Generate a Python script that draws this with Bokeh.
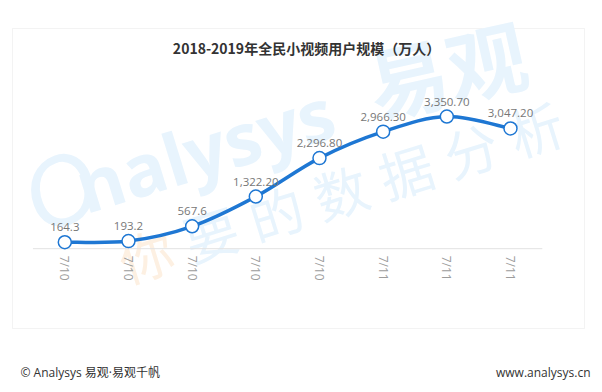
import numpy as np
from bokeh.plotting import figure
from bokeh.models import Range1d, Label, ColumnDataSource, BoxAnnotation
from bokeh.core.properties import value
from bokeh.embed import file_html
from bokeh.resources import INLINE

# ---- data ----
categories = ["7/10", "7/10", "7/10", "7/10", "7/10", "7/11", "7/11", "7/11"]
users = [164.3, 193.2, 567.6, 1322.2, 2296.8, 2966.3, 3350.7, 3047.2]
value_labels = ["164.3", "193.2", "567.6", "1,322.20", "2,296.80", "2,966.30", "3,350.70", "3,047.20"]
title_text = "2018-2019年全民小视频用户规模（万人）"
footer_left = "© Analysys 易观·易观千帆"
footer_right = "www.analysys.cn"

FONT = "Noto Sans CJK SC"
LATIN = "'Open Sans', 'Noto Sans CJK SC'"
BLUE = "#1e77d3"
WM_BLUE = "#e8f4fd"

xs = np.arange(len(users), dtype=float)
ys = np.array(users, dtype=float)

# the frame covers the whole canvas; the chart box is drawn as an annotation
p = figure(width=602, height=392, output_backend="svg", toolbar_location=None, tools="",
           title=None, x_axis_location=None, y_axis_location=None,
           x_range=Range1d(-1.0099, 8.4451), y_range=Range1d(-3645, 6291),
           min_border=0)
p.xgrid.visible = False
p.ygrid.visible = False
p.outline_line_color = None
p.background_fill_color = "white"
p.border_fill_color = "white"

# chart box
p.add_layout(BoxAnnotation(left=12, right=584, bottom=64, top=364,
                           left_units="screen", right_units="screen",
                           bottom_units="screen", top_units="screen",
                           fill_alpha=0, line_color="#d6d6d6", line_width=1, level="underlay"))

# watermark (decoration), placed by centre
def wm(text, cx, cy, size, angle, color, style="normal", font=FONT):
    p.add_layout(Label(x=cx, y=cy, x_units="screen", y_units="screen", text=text,
                       text_align="center", text_baseline="middle", text_font=font,
                       text_font_size=f"{size}px", text_font_style=style,
                       text_color=color, angle=angle, level="underlay"))

wm("O", 60, 205, 96, 0.35, WM_BLUE, "italic", "Lato")
wm("nalysys", 204, 244, 72, 0.3, WM_BLUE, "bold", "Open Sans")
wm("易观", 446, 326, 80, 0.22, WM_BLUE, "bold")
wm_chars = "你要的数据分析"
for i, ch in enumerate(wm_chars):
    wm(ch, 145 + 65 * i, 139 + 21 * i, 54, 0.3, "#fdf0e2" if i == 0 else WM_BLUE)

# title
p.add_layout(Label(x=306, y=345, x_units="screen", y_units="screen", text=title_text,
                   text_align="center", text_baseline="middle", text_font=FONT,
                   text_font_size="14px", text_font_style="bold", text_color="#333333"))

# baseline (category axis line)
p.segment(x0=[xs[0] - 0.5], y0=[0], x1=[xs[-1] + 0.5], y1=[0], line_color="#e2e2e2", line_width=1)

# category labels, rotated
csrc = ColumnDataSource(dict(x=xs, y=np.zeros_like(xs), lab=categories))
p.text("x", "y", text="lab", source=csrc, angle=-np.pi / 2, text_align="left",
       text_baseline="middle", y_offset=7, text_font=value(LATIN), text_font_size="12px",
       text_color="#9c9c9c")

# smooth curve (Catmull-Rom -> cubic bezier)
n = len(xs)
x0, y0, x1, y1, cx0, cy0, cx1, cy1 = [], [], [], [], [], [], [], []
for i in range(n - 1):
    pm = i - 1 if i > 0 else i
    pp = i + 2 if i + 2 < n else i + 1
    x0.append(xs[i]); y0.append(ys[i]); x1.append(xs[i + 1]); y1.append(ys[i + 1])
    cx0.append(xs[i] + (xs[i + 1] - xs[pm]) / 6.0)
    cy0.append(ys[i] + (ys[i + 1] - ys[pm]) / 6.0)
    cx1.append(xs[i + 1] - (xs[pp] - xs[i]) / 6.0)
    cy1.append(ys[i + 1] - (ys[pp] - ys[i]) / 6.0)
p.bezier(x0=x0, y0=y0, x1=x1, y1=y1, cx0=cx0, cy0=cy0, cx1=cx1, cy1=cy1,
         line_color=BLUE, line_width=3.5)

src = ColumnDataSource(dict(x=xs, y=ys, lab=value_labels))
p.scatter("x", "y", source=src, size=13, fill_color="white", line_color=BLUE, line_width=1.5)
p.text("x", "y", text="lab", source=src, text_align="center", text_baseline="alphabetic",
       y_offset=-15, text_font=value(LATIN), text_font_size="11.5px", text_color="#777777")

# footer
p.add_layout(Label(x=20, y=20, x_units="screen", y_units="screen", text=footer_left,
                   text_align="left", text_baseline="middle", text_font=LATIN,
                   text_font_size="12px", text_color="#333333"))
p.add_layout(Label(x=590, y=20, x_units="screen", y_units="screen", text=footer_right,
                   text_align="right", text_baseline="middle", text_font=LATIN,
                   text_font_size="12px", text_color="#333333"))

open("out.html", "w").write(file_html(p, INLINE))
